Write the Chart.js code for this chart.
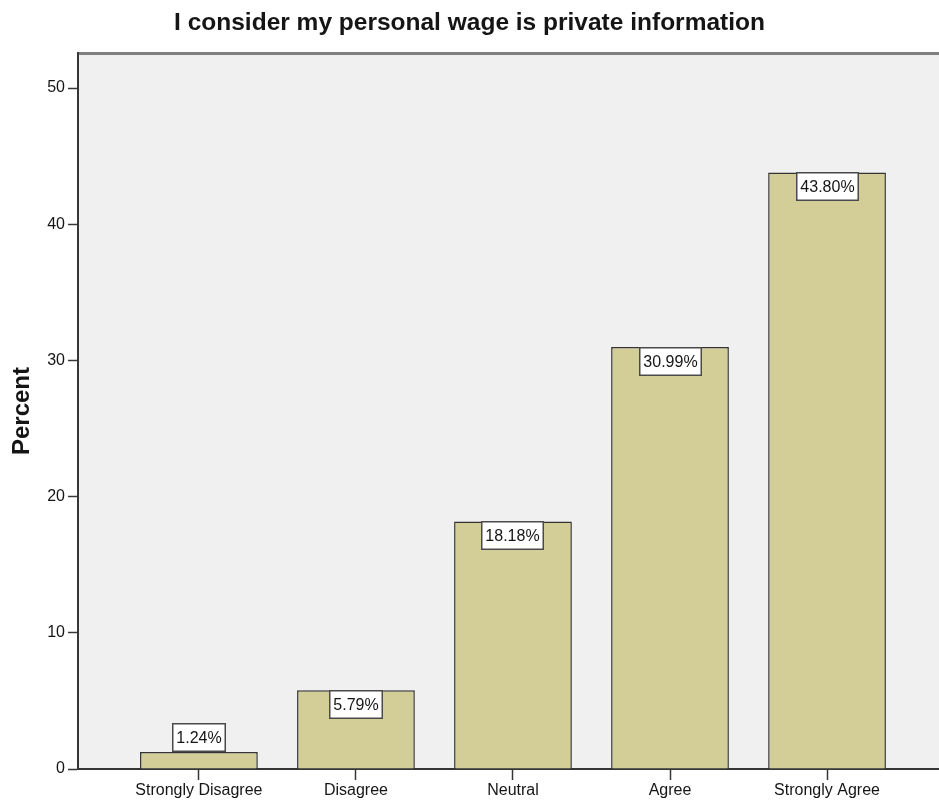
<!DOCTYPE html>
<html>
<head>
<meta charset="utf-8">
<title>I consider my personal wage is private information</title>
<script src="https://cdn.jsdelivr.net/npm/chart.js@4.4.1/dist/chart.umd.min.js"></script>
<style>
  html, body { margin: 0; padding: 0; background: #ffffff; overflow: hidden; }
  #wrap { width: 939px; height: 803px; }
</style>
</head>
<body>
<div id="wrap"><canvas id="chart" width="939" height="803"></canvas></div>
<script>
// Survey responses, share of respondents per answer
const categories = ['Strongly Disagree', 'Disagree', 'Neutral', 'Agree', 'Strongly Agree'];
const percents = [1.24, 5.79, 18.18, 30.99, 43.80];
const yTickValues = [0, 10, 20, 30, 40, 50];
const chartTitle = 'I consider my personal wage is private information';
const yAxisTitle = 'Percent';

const FONT = "'Liberation Sans', Arial, Helvetica, sans-serif";
const TEXT = '#151515';
const AXIS = '#363636';

// White page, grey plot panel and its heavier top rule
const plotBackground = {
  id: 'plotBackground',
  beforeDraw(chart) {
    const { ctx, chartArea: a, width, height } = chart;
    ctx.save();
    ctx.fillStyle = '#ffffff';
    ctx.fillRect(0, 0, width, height);
    ctx.fillStyle = '#f0f0f0';
    ctx.fillRect(a.left, a.top, a.right - a.left, a.bottom - a.top);
    ctx.strokeStyle = '#808080';
    ctx.lineWidth = 3;
    ctx.beginPath();
    ctx.moveTo(a.left, a.top + 0.5);
    ctx.lineTo(a.right, a.top + 0.5);
    ctx.stroke();
    ctx.restore();
  }
};

// Boxed percentage label at the top of each bar (above it when the bar is too short)
const valueBoxes = {
  id: 'valueBoxes',
  afterDatasetsDraw(chart) {
    const { ctx } = chart;
    const meta = chart.getDatasetMeta(0);
    ctx.save();
    ctx.font = `16px ${FONT}`;
    ctx.textAlign = 'center';
    ctx.textBaseline = 'middle';
    meta.data.forEach((bar, i) => {
      const text = percents[i].toFixed(2) + '%';
      const w = Math.round(ctx.measureText(text).width + 9);
      const h = 29;
      const barH = bar.base - bar.y;
      const top = Math.round(barH >= h ? bar.y : bar.y - h);
      const left = Math.round(bar.x - w / 2);
      ctx.fillStyle = '#ffffff';
      ctx.fillRect(left, top, w, h);
      ctx.strokeStyle = '#4a4a4a';
      ctx.lineWidth = 1.5;
      ctx.strokeRect(left + 0.75, top + 0.75, w - 1.5, h - 1.5);
      ctx.fillStyle = TEXT;
      ctx.fillText(text, left + w / 2, top + h / 2 + 1);
    });
    ctx.restore();
  }
};

new Chart(document.getElementById('chart'), {
  type: 'bar',
  data: {
    datasets: [{
      data: percents.map((v, i) => ({ x: i, y: v })),
      backgroundColor: '#d3ce97',
      borderColor: '#333333',
      borderWidth: 1.5,
      barPercentage: 0.75,
      categoryPercentage: 1.0
    }]
  },
  options: {
    responsive: false,
    animation: false,
    layout: { padding: 0 },
    plugins: {
      legend: { display: false },
      tooltip: { enabled: false },
      title: {
        display: true,
        text: chartTitle,
        color: TEXT,
        font: { family: FONT, size: 24.5, weight: 'bold' },
        padding: { top: 9, bottom: 14.6 }
      }
    },
    scales: {
      x: {
        type: 'linear',
        offset: false,
        min: -0.77,
        max: 4.713,
        afterBuildTicks: s => { s.ticks = categories.map((_, i) => ({ value: i })); },
        afterFit: s => { s.height = 34; },
        ticks: {
          callback: v => categories[v],
          color: TEXT,
          font: { family: FONT, size: 16 },
          padding: 1,
          maxRotation: 0,
          autoSkip: false
        },
        grid: { offset: false, drawOnChartArea: false, tickLength: 11, tickColor: AXIS, tickWidth: 1.5 },
        border: { display: true, color: AXIS, width: 2 }
      },
      y: {
        min: 0,
        max: 52.57,
        afterBuildTicks: s => { s.ticks = yTickValues.map(v => ({ value: v })); },
        afterFit: s => { s.width = 78; },
        ticks: {
          color: TEXT,
          font: { family: FONT, size: 16 },
          padding: 3
        },
        grid: { drawOnChartArea: false, tickLength: 10, tickColor: AXIS, tickWidth: 1.5 },
        border: { display: true, color: AXIS, width: 2 },
        title: {
          display: true,
          text: yAxisTitle,
          color: TEXT,
          font: { family: FONT, size: 24, weight: 'bold' },
          padding: { top: 8, bottom: 0 }
        }
      }
    }
  },
  plugins: [plotBackground, valueBoxes]
});
</script>
</body>
</html>
